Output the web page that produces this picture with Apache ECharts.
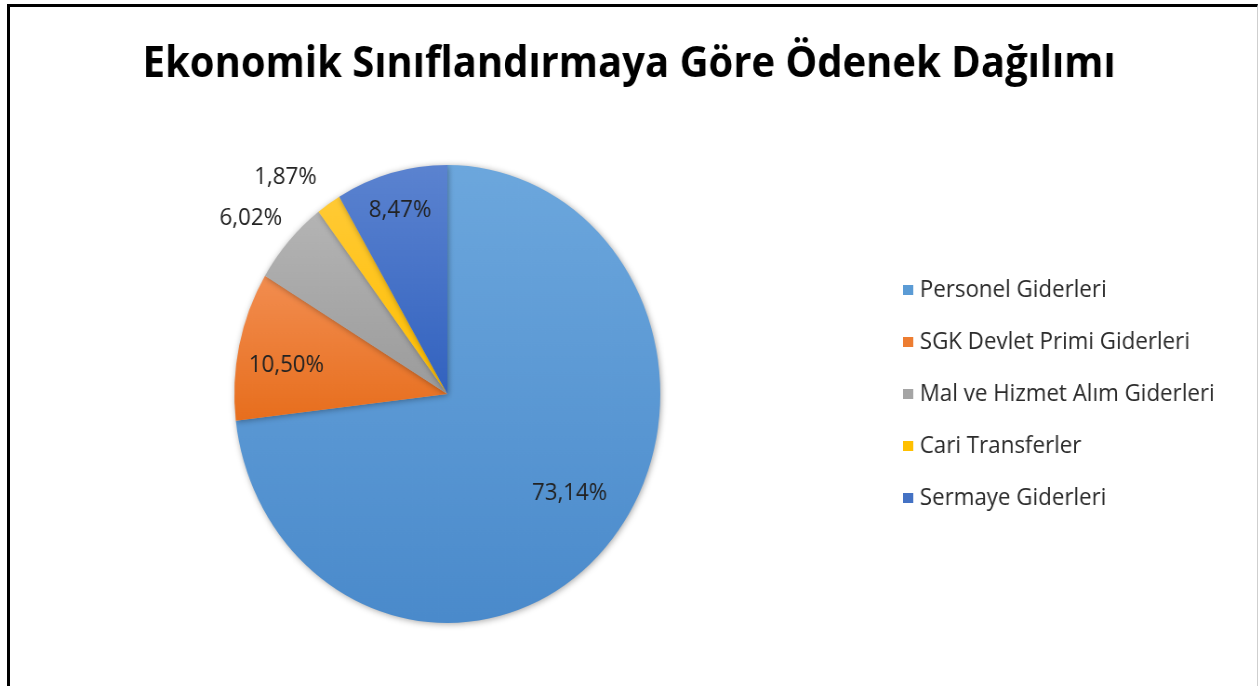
<!DOCTYPE html>
<html>
<head>
<meta charset="utf-8">
<script src="https://cdn.jsdelivr.net/npm/echarts@6/dist/echarts.min.js"></script>
<style>
  html, body { margin: 0; padding: 0; background: #fff; overflow: hidden; }
  #wrap { position: relative; width: 1258px; height: 686px; overflow: hidden; }
  #chart { position: absolute; left: 0; top: 0; width: 1353px; height: 686px;
           transform: scaleX(0.93); transform-origin: 0 0; }
  #frame { position: absolute; left: 7px; top: 4px; width: 1247px; height: 700px;
           border-left: 3px solid #000; border-top: 3px solid #000; border-right: 1px solid #cfcfcf;
           pointer-events: none; }
</style>
</head>
<body>
<div id="wrap">
  <div id="chart"></div>
  <div id="frame"></div>
</div>
<script>
const titleText = 'Ekonomik Sınıflandırmaya Göre Ödenek Dağılımı';
const categories = ['Personel Giderleri', 'SGK Devlet Primi Giderleri', 'Mal ve Hizmet Alım Giderleri', 'Cari Transferler', 'Sermaye Giderleri'];
const shares = [73.14, 10.50, 6.02, 1.87, 8.47];
const topColors = ['#6CA7DD', '#F28D50', '#B4B4B4', '#FFCA35', '#5B83D0'];
const bottomColors = ['#4A8ACB', '#E76E1D', '#9B9B9B', '#FFBE00', '#3262BF'];
const legendColors = ['#5B9BD5', '#ED7D31', '#A5A5A5', '#FFC000', '#4472C4'];

const R = 229;
const center = [481, 394];
const FONT = '"Open Sans"';
const fmt = p => p.value.toFixed(2).replace('.', ',') + '%';

function grad(i) {
  return new echarts.graphic.LinearGradient(0, 0, 0, 1, [
    { offset: 0, color: topColors[i] },
    { offset: 1, color: bottomColors[i] }
  ]);
}

const mainData = categories.map((name, i) => ({
  name, value: shares[i], itemStyle: { color: grad(i) }
}));

// helper ring that only carries labels, at a given fraction of the radius
function labelRing(frac, shown) {
  return {
    type: 'pie', silent: true, z: 5,
    center, radius: [0, R * frac * 2],
    startAngle: 90, clockwise: true,
    itemStyle: { color: 'rgba(0,0,0,0)' },
    emphasis: { disabled: true },
    labelLine: { show: false },
    data: categories.map((name, i) => ({
      name, value: shares[i],
      label: shown[name] ? { show: true, offset: shown[name] } : { show: false }
    })),
    label: {
      position: 'inside', formatter: fmt,
      fontFamily: FONT, fontSize: 24, color: '#222'
    }
  };
}

const chart = echarts.init(document.getElementById('chart'), null, { renderer: 'canvas' });
chart.setOption({
  animation: false,
  backgroundColor: '#fff',
  title: {
    text: titleText, left: 'center', top: 38,
    textStyle: { fontFamily: FONT, fontWeight: 'bold', fontSize: 43, color: '#000' }
  },
  legend: {
    orient: 'vertical', left: 966, top: 273,
    itemWidth: 11, itemHeight: 10, itemGap: 28,
    icon: 'rect',
    textStyle: { fontFamily: FONT, fontSize: 24, color: '#2b2b2b', lineHeight: 22, padding: [0, 0, 0, 2] },
    data: categories.map((name, i) => ({ name, itemStyle: { color: legendColors[i] } }))
  },
  series: [
    {
      type: 'pie', center, radius: [0, R],
      startAngle: 90, clockwise: true,
      label: { show: false }, labelLine: { show: false },
      itemStyle: { shadowBlur: 6, shadowColor: 'rgba(0,0,0,0.35)', shadowOffsetX: 1, shadowOffsetY: 1 },
      emphasis: { disabled: true },
      data: mainData
    },
    labelRing(0.72, { 'Personel Giderleri': [6, -12] }),
    labelRing(0.76, { 'SGK Devlet Primi Giderleri': [0, 9] }),
    labelRing(0.83, { 'Sermaye Giderleri': [0, 2] }),
    labelRing(1.21, { 'Mal ve Hizmet Alım Giderleri': [-3, 11], 'Cari Transferler': [-18, 16] })
  ]
});
</script>
</body>
</html>
